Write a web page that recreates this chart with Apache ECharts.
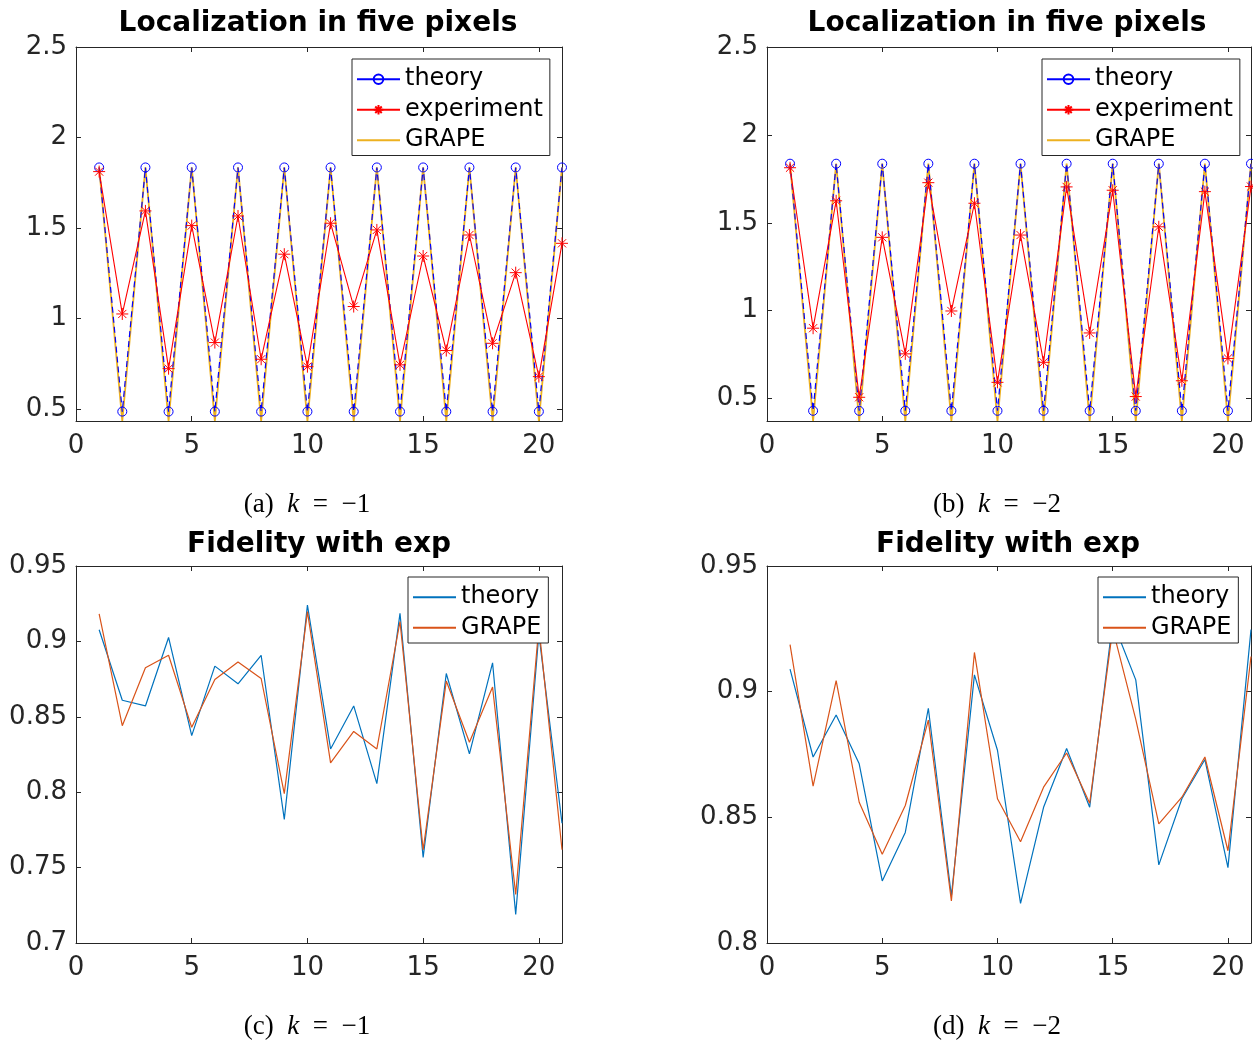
<!DOCTYPE html>
<html>
<head>
<meta charset="utf-8">
<script src="https://cdn.jsdelivr.net/npm/echarts@6/dist/echarts.min.js"></script>
<style>
  html, body { margin: 0; padding: 0; background: #fff; }
  #chart { width: 1253px; height: 1042px; }
</style>
</head>
<body>
<div id="chart"></div>
<script>
// Step index along the horizontal axis
const steps = [1, 2, 3, 4, 5, 6, 7, 8, 9, 10, 11, 12, 13, 14, 15, 16, 17, 18, 19, 20, 21];

// Localization in five pixels, k = -1
const theoryA = [1.835, 0.487, 1.835, 0.487, 1.835, 0.487, 1.835, 0.487, 1.835, 0.487, 1.835,
                 0.487, 1.835, 0.487, 1.835, 0.487, 1.835, 0.487, 1.835, 0.487, 1.835];
const experimentA = [1.812, 1.026, 1.595, 0.724, 1.514, 0.868, 1.567, 0.776, 1.356, 0.735, 1.527,
                     1.067, 1.490, 0.745, 1.346, 0.824, 1.462, 0.864, 1.254, 0.680, 1.416];
const grapeA = [1.835, 0.435, 1.835, 0.435, 1.835, 0.435, 1.835, 0.435, 1.835, 0.435, 1.835,
                0.435, 1.835, 0.435, 1.835, 0.435, 1.835, 0.435, 1.835, 0.435, 1.835];

// Localization in five pixels, k = -2
const theoryB = [1.836, 0.430, 1.836, 0.430, 1.836, 0.430, 1.836, 0.430, 1.836, 0.430, 1.836,
                 0.430, 1.836, 0.430, 1.836, 0.430, 1.836, 0.430, 1.836, 0.430, 1.836];
const experimentB = [1.813, 0.900, 1.625, 0.507, 1.417, 0.754, 1.728, 0.998, 1.611, 0.592, 1.430,
                     0.706, 1.704, 0.873, 1.685, 0.511, 1.477, 0.601, 1.677, 0.728, 1.706];
const grapeB = [1.836, 0.372, 1.836, 0.372, 1.836, 0.372, 1.836, 0.372, 1.836, 0.372, 1.836,
                0.372, 1.836, 0.372, 1.836, 0.372, 1.836, 0.372, 1.836, 0.372, 1.836];

// Fidelity with exp, k = -1
const theoryC = [0.9077, 0.8610, 0.8572, 0.9026, 0.8375, 0.8836, 0.8719, 0.8908, 0.7820, 0.9241, 0.8287,
                 0.8572, 0.8057, 0.9186, 0.7568, 0.8787, 0.8254, 0.8858, 0.7190, 0.9050, 0.7794];
const grapeC = [0.9182, 0.8441, 0.8825, 0.8908, 0.8430, 0.8748, 0.8864, 0.8754, 0.7991, 0.9197, 0.8195,
                0.8403, 0.8287, 0.9132, 0.7618, 0.8737, 0.8331, 0.8697, 0.7322, 0.9100, 0.7618];

// Fidelity with exp, k = -2
const theoryD = [0.9090, 0.8740, 0.8907, 0.8713, 0.8247, 0.8440, 0.8934, 0.8187, 0.9067, 0.8767, 0.8158,
                 0.8540, 0.8774, 0.8540, 0.9280, 0.9047, 0.8311, 0.8574, 0.8730, 0.8300, 0.9247];
const grapeD = [0.9187, 0.8624, 0.9044, 0.8560, 0.8353, 0.8547, 0.8887, 0.8167, 0.9156, 0.8574, 0.8403,
                0.8620, 0.8756, 0.8556, 0.9250, 0.8890, 0.8474, 0.8580, 0.8740, 0.8367, 0.9140];

// Tick labels
const xTicks = [0, 5, 10, 15, 20];
const yTicksLoc = [0.5, 1, 1.5, 2, 2.5];
const yTicksFidC = [0.7, 0.75, 0.8, 0.85, 0.9, 0.95];
const yTicksFidD = [0.8, 0.85, 0.9, 0.95];

// Text
const titleLoc = 'Localization in five pixels';
const titleFid = 'Fidelity with exp';
const captions = [['(a)', '\u22121'], ['(b)', '\u22122'], ['(c)', '\u22121'], ['(d)', '\u22122']];

const FONT = 'DejaVu Sans';
const AXIS_COLOR = '#262626';

const chart = echarts.init(document.getElementById('chart'), null, { renderer: 'canvas' });

const grids = [
  { left: 76,  top: 47,  width: 486, height: 374 },
  { left: 767, top: 47,  width: 484, height: 374 },
  { left: 76,  top: 566, width: 486, height: 377 },
  { left: 767, top: 566, width: 484, height: 377 }
];
const yRanges = [
  { min: 0.435, max: 2.5, ticks: yTicksLoc },
  { min: 0.372, max: 2.5, ticks: yTicksLoc },
  { min: 0.7, max: 0.95, ticks: yTicksFidC },
  { min: 0.8, max: 0.95, ticks: yTicksFidD }
];

const xAxes = [];
const yAxes = [];
grids.forEach((g, i) => {
  ['bottom', 'top'].forEach((pos) => {
    xAxes.push({
      type: 'value', gridIndex: i, position: pos, min: 0, max: 21,
      axisLine: { show: true, onZero: false, lineStyle: { color: AXIS_COLOR, width: 1 } },
      axisTick: { show: true, inside: true, length: 5, customValues: xTicks, lineStyle: { color: AXIS_COLOR } },
      axisLabel: {
        show: pos === 'bottom', customValues: xTicks, margin: 12,
        color: AXIS_COLOR, fontFamily: FONT, fontSize: 26
      },
      splitLine: { show: false }
    });
  });
  ['left', 'right'].forEach((pos) => {
    yAxes.push({
      type: 'value', gridIndex: i, position: pos, min: yRanges[i].min, max: yRanges[i].max,
      axisLine: { show: true, onZero: false, lineStyle: { color: AXIS_COLOR, width: 1 } },
      axisTick: { show: true, inside: true, length: 5, customValues: yRanges[i].ticks, lineStyle: { color: AXIS_COLOR } },
      axisLabel: {
        show: pos === 'left', customValues: yRanges[i].ticks, margin: 9,
        color: AXIS_COLOR, fontFamily: FONT, fontSize: 26
      },
      splitLine: { show: false }
    });
  });
});

function pairs(vals) {
  return steps.map((s, k) => [s, vals[k]]);
}

const starPath = 'path://M0,5L10,5M5,0L5,10M1.6,1.6L8.4,8.4M1.6,8.4L8.4,1.6';

function locSeries(i, tag, theory, experiment, grape) {
  return [
    {
      name: 'GRAPE@' + tag, type: 'line', xAxisIndex: 2 * i, yAxisIndex: 2 * i,
      data: pairs(grape), symbol: 'none', z: 2,
      lineStyle: { color: '#EDB120', width: 1.8 }, itemStyle: { color: '#EDB120' }
    },
    {
      name: 'theory@' + tag, type: 'line', xAxisIndex: 2 * i, yAxisIndex: 2 * i,
      data: pairs(theory), symbol: 'circle', symbolSize: 9, z: 3,
      lineStyle: { color: '#0000FF', width: 1.2, type: [6, 4] },
      itemStyle: { color: 'rgba(0,0,0,0)', borderColor: '#0000FF', borderWidth: 1 }
    },
    {
      name: 'experiment@' + tag, type: 'line', xAxisIndex: 2 * i, yAxisIndex: 2 * i,
      data: pairs(experiment), symbol: starPath, symbolSize: 12, z: 4,
      lineStyle: { color: '#FF0000', width: 1.1 },
      itemStyle: { color: '#FF0000', borderColor: '#FF0000', borderWidth: 1 }
    }
  ];
}

function fidSeries(i, tag, theory, grape) {
  return [
    {
      name: 'theory@' + tag, type: 'line', xAxisIndex: 2 * i, yAxisIndex: 2 * i,
      data: pairs(theory), symbol: 'none', z: 2,
      lineStyle: { color: '#0072BD', width: 1.2 }, itemStyle: { color: '#0072BD' }
    },
    {
      name: 'GRAPE@' + tag, type: 'line', xAxisIndex: 2 * i, yAxisIndex: 2 * i,
      data: pairs(grape), symbol: 'none', z: 3,
      lineStyle: { color: '#D95319', width: 1.2 }, itemStyle: { color: '#D95319' }
    }
  ];
}

const series = [].concat(
  locSeries(0, 'a', theoryA, experimentA, grapeA),
  locSeries(1, 'b', theoryB, experimentB, grapeB),
  fidSeries(2, 'c', theoryC, grapeC),
  fidSeries(3, 'd', theoryD, grapeD)
);

// Plain line entry in a legend (no marker drawn on the sample line)
function lineOnly(name) {
  return { name: name, itemStyle: { color: 'rgba(0,0,0,0)', borderWidth: 0, opacity: 0 } };
}

function legendBox(left, top, items) {
  return {
    show: true, orient: 'vertical', left: left, top: top,
    padding: [5, 7, 0, 4], itemGap: 0, itemWidth: 43, itemHeight: 12,
    backgroundColor: '#fff', borderColor: AXIS_COLOR, borderWidth: 1, borderRadius: 0,
    selectedMode: false, inactiveColor: '#000',
    formatter: (name) => name.split('@')[0],
    textStyle: { fontFamily: FONT, fontSize: 24, color: '#000', lineHeight: 30.5 },
    data: items
  };
}

const legends = [
  legendBox(352, 59, [
    { name: 'theory@a', lineStyle: { type: 'solid' } }, 'experiment@a', lineOnly('GRAPE@a')
  ]),
  legendBox(1042, 59, [
    { name: 'theory@b', lineStyle: { type: 'solid' } }, 'experiment@b', lineOnly('GRAPE@b')
  ]),
  legendBox(408, 577, [lineOnly('theory@c'), lineOnly('GRAPE@c')]),
  legendBox(1098, 577, [lineOnly('theory@d'), lineOnly('GRAPE@d')])
];

function titleText(x, y, text) {
  return {
    type: 'text', x: x, y: y, z: 10,
    style: {
      text: text, fill: '#000', font: 'bold 28px "' + FONT + '"',
      align: 'center', verticalAlign: 'middle'
    }
  };
}

function captionText(x, y, cap) {
  return {
    type: 'text', x: x, y: y, z: 10,
    style: {
      text: cap[0] + '  {k|k}  =  ' + cap[1],
      fill: '#000', font: '27px "Liberation Serif"',
      align: 'center', verticalAlign: 'middle',
      rich: {
        k: { fontFamily: 'Liberation Serif', fontStyle: 'italic', fontSize: 27, fill: '#000' }
      }
    }
  };
}

const graphics = [
  titleText(318, 24, titleLoc),
  titleText(1007, 24, titleLoc),
  titleText(319, 545, titleFid),
  titleText(1008, 545, titleFid),
  captionText(307, 505, captions[0]),
  captionText(997, 505, captions[1]),
  captionText(307, 1027, captions[2]),
  captionText(997, 1027, captions[3])
];

chart.setOption({
  animation: false,
  backgroundColor: '#fff',
  grid: grids.map((g) => Object.assign({ containLabel: false }, g)),
  xAxis: xAxes,
  yAxis: yAxes,
  legend: legends,
  series: series,
  graphic: graphics
});
</script>
</body>
</html>
